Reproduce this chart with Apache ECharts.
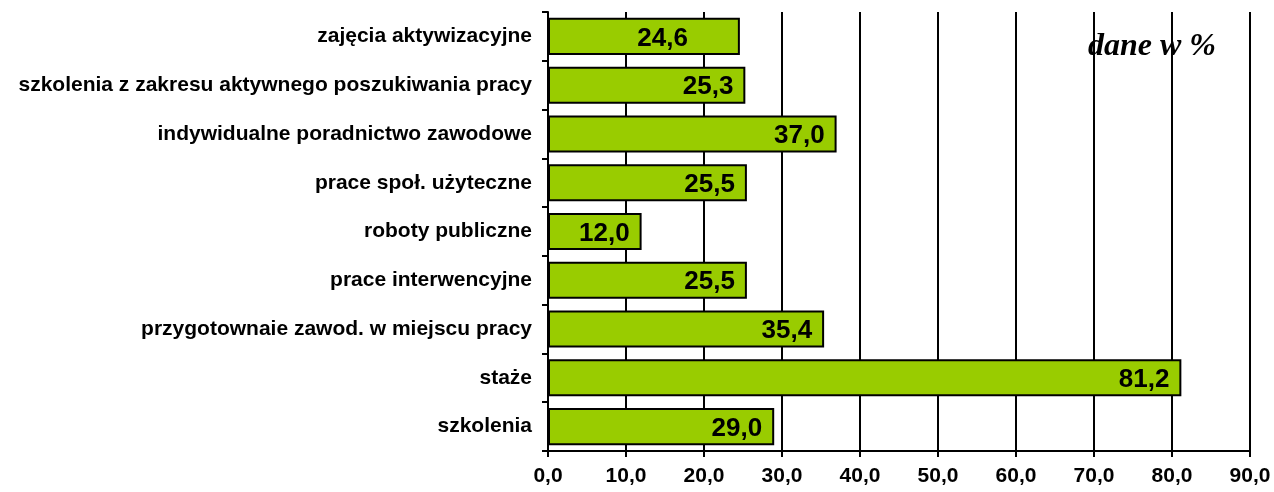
<!DOCTYPE html>
<html>
<head>
<meta charset="utf-8">
<script src="https://cdn.jsdelivr.net/npm/echarts@6/dist/echarts.min.js"></script>
<style>
  html, body { margin: 0; padding: 0; background: #fff; }
  #chart { width: 1274px; height: 492px; }
</style>
</head>
<body>
<div id="chart"></div>
<script>
// kategorie od góry do dołu
const categories = [
  'zajęcia aktywizacyjne',
  'szkolenia z zakresu aktywnego poszukiwania pracy',
  'indywidualne poradnictwo zawodowe',
  'prace społ. użyteczne',
  'roboty publiczne',
  'prace interwencyjne',
  'przygotownaie zawod. w miejscu pracy',
  'staże',
  'szkolenia'
]
const values = [24.6, 25.3, 37.0, 25.5, 12.0, 25.5, 35.4, 81.2, 29.0]
const axisMin = 0
const axisMax = 90
const axisStep = 10
const unitNote = 'dane w %'

const fmt = (v) => Number(v).toFixed(1).replace('.', ',')

const chart = echarts.init(document.getElementById('chart'))
chart.setOption({
  animation: false,
  grid: {left: 548, right: 24, top: 12, bottom: 41},
  xAxis: {
    type: 'value',
    min: axisMin,
    max: axisMax,
    interval: axisStep,
    axisLine: {show: true, lineStyle: {color: '#000', width: 2}},
    axisTick: {show: true, length: 6, lineStyle: {color: '#000', width: 2}},
    splitLine: {show: true, lineStyle: {color: '#000', width: 2}},
    axisLabel: {
      formatter: fmt,
      color: '#000',
      fontFamily: 'Liberation Sans, Arial, sans-serif',
      fontWeight: 'bold',
      fontSize: 21,
      margin: 15
    }
  },
  yAxis: {
    type: 'category',
    inverse: true,
    data: categories,
    axisLine: {show: true, lineStyle: {color: '#000', width: 2}},
    axisTick: {show: true, length: 6, lineStyle: {color: '#000', width: 2}},
    axisLabel: {
      color: '#000',
      fontFamily: 'Liberation Sans, Arial, sans-serif',
      fontWeight: 'bold',
      fontSize: 21,
      margin: 16
    }
  },
  series: [{
    type: 'bar',
    data: values.map((v, i) => i === 0 ? {value: v, label: {offset: [-40, 2]}} : v),
    barCategoryGap: '24%',
    itemStyle: {color: '#99CC00', borderColor: '#000', borderWidth: 2},
    label: {
      show: true,
      position: 'insideRight',
      distance: 12,
      offset: [0, 2],
      formatter: (p) => fmt(p.value),
      color: '#000',
      fontFamily: 'Liberation Sans, Arial, sans-serif',
      fontWeight: 'bold',
      fontSize: 26
    }
  }],
  graphic: [{
    type: 'text',
    left: 1088,
    top: 31,
    style: {
      text: unitNote,
      fill: '#000',
      font: 'italic bold 32px "Liberation Serif", "Times New Roman", serif'
    }
  }]
})
</script>
</body>
</html>
